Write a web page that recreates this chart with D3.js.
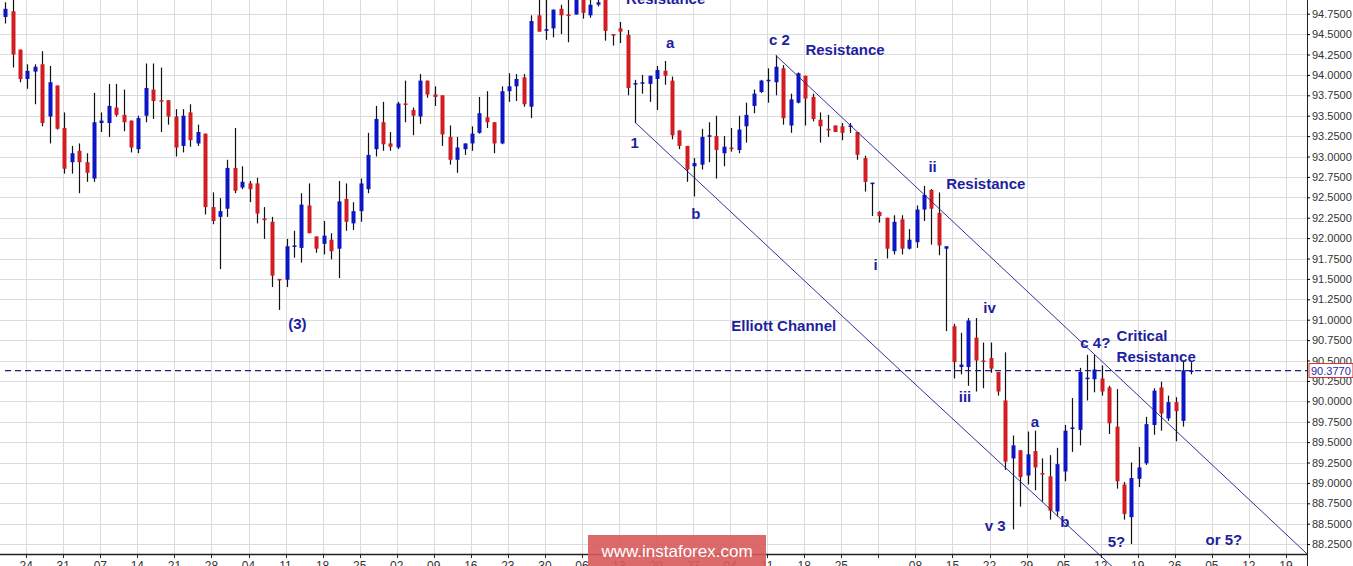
<!DOCTYPE html>
<html>
<head>
<meta charset="utf-8">
<script src="https://cdn.jsdelivr.net/npm/d3@7"></script>
<style>
  body { margin: 0; background: #fff; overflow: hidden; }
  svg { display: block; }
</style>
</head>
<body>
<div id="chart"></div>
<script>
// daily candles, [open, high, low, close]
var candles = [
  [94.71,94.89,94.63,94.81],[94.78,94.99,94.09,94.25],[94.31,94.31,93.91,93.95],[93.95,94.13,93.83,94.05],
  [94.04,94.13,93.64,94.10],[94.13,94.29,93.37,93.41],[93.49,94.11,93.16,93.91],[93.87,93.87,93.33,93.34],
  [93.35,93.54,92.79,92.85],[92.93,93.13,92.79,93.04],[93.07,93.16,92.55,92.93],[92.93,93.04,92.69,92.80],
  [92.73,93.78,92.69,93.42],[93.41,93.54,93.30,93.44],[93.41,93.89,93.24,93.62],[93.60,93.89,93.49,93.51],
  [93.51,93.82,93.31,93.42],[93.44,93.44,93.05,93.11],[93.09,93.50,93.04,93.47],[93.50,94.14,93.42,93.84],
  [93.82,94.14,93.46,93.68],[93.69,94.09,93.30,93.68],[93.69,93.69,93.39,93.49],[93.49,93.58,93.00,93.11],
  [93.13,93.58,93.05,93.50],[93.54,93.64,93.12,93.20],[93.16,93.39,93.13,93.30],[93.28,93.28,92.29,92.38],
  [92.38,92.56,92.17,92.21],[92.26,92.49,91.62,92.33],[92.36,92.96,92.26,92.86],[92.86,93.35,92.55,92.58],
  [92.62,92.88,92.60,92.69],[92.67,92.70,92.44,92.60],[92.67,92.74,92.18,92.30],[92.24,92.38,91.99,92.22],
  [92.20,92.26,91.40,91.54],[91.50,91.50,91.12,91.49],[91.49,91.99,91.40,91.90],[91.90,92.09,91.76,91.91],
  [91.88,92.55,91.70,92.41],[92.40,92.67,92.06,92.06],[92.02,92.02,91.82,91.87],[91.93,92.21,91.80,92.03],
  [91.98,92.06,91.74,91.84],[91.87,92.70,91.51,92.45],[92.48,92.67,92.09,92.20],[92.18,92.44,92.10,92.33],
  [92.33,92.73,92.20,92.67],[92.60,93.29,92.55,93.02],[93.09,93.62,93.00,93.46],[93.42,93.67,93.07,93.15],
  [93.16,93.30,93.07,93.12],[93.11,93.67,93.09,93.65],[93.65,93.93,93.42,93.64],[93.57,93.60,93.26,93.50],
  [93.49,94.01,93.40,93.93],[93.93,93.93,93.72,93.76],[93.76,93.86,93.62,93.73],[93.75,93.75,93.13,93.27],
  [93.24,93.38,92.90,92.96],[92.96,93.24,92.80,93.11],[93.09,93.16,93.02,93.16],[93.16,93.37,93.07,93.28],
  [93.29,93.73,93.28,93.53],[93.48,93.80,93.35,93.42],[93.42,93.42,93.04,93.16],[93.16,93.86,93.15,93.80],
  [93.80,94.02,93.67,93.86],[93.86,94.01,93.68,93.95],[93.97,94.01,93.61,93.64],[93.61,94.73,93.47,94.66],
  [94.73,94.95,94.53,94.53],[94.54,94.95,94.43,94.56],[94.57,94.80,94.46,94.80],[94.81,94.86,94.50,94.73],
  [94.74,94.95,94.40,94.73],[94.74,95.04,94.74,94.98],[94.99,95.04,94.69,94.76],[94.73,94.97,94.70,94.86],
  [94.86,94.97,94.84,94.89],[94.99,95.04,94.42,94.54],[94.50,94.50,94.36,94.49],[94.57,94.65,94.39,94.53],
  [94.49,94.55,93.75,93.84],[93.89,93.94,93.41,93.90],[93.90,94.00,93.77,93.91],[93.89,93.99,93.67,93.99],
  [93.95,94.11,93.57,94.06],[94.05,94.17,93.88,93.99],
  [93.93,93.98,93.21,93.26],[93.32,93.32,93.09,93.13],
  [93.13,93.13,92.69,92.84],[92.88,92.98,92.51,92.92],[92.90,93.34,92.84,93.24],[93.25,93.42,92.93,93.26],
  [93.25,93.50,92.73,93.08],[93.04,93.25,92.88,93.12],[93.11,93.35,93.06,93.10],[93.08,93.50,93.04,93.33],
  [93.37,93.66,93.17,93.51],[93.62,93.82,93.53,93.77],[93.79,93.94,93.78,93.93],[93.93,94.08,93.66,93.94],
  [93.91,94.24,93.75,94.10],[94.08,94.12,93.39,93.47],[93.38,93.77,93.29,93.70],[93.66,94.03,93.65,94.02],
  [93.99,93.99,93.38,93.71],[93.73,93.77,93.43,93.46],[93.45,93.54,93.17,93.37],[93.34,93.51,93.24,93.32],
  [93.38,93.38,93.30,93.30],[93.37,93.41,93.20,93.29],[93.37,93.41,93.29,93.38],[93.30,93.30,92.96,93.02],
  [92.98,93.01,92.57,92.69],[92.67,92.68,92.27,92.68],[92.32,92.33,92.19,92.27],[92.25,92.25,91.75,91.87],
  [91.84,92.28,91.80,92.20],[92.23,92.28,91.80,91.87],[91.87,92.11,91.86,91.98],[91.95,92.40,91.88,92.35],
  [92.35,92.64,92.21,92.53],[92.59,92.60,91.92,92.36],[92.31,92.56,91.79,91.91],[91.87,91.90,90.86,91.90],
  [90.92,90.95,90.28,90.48],[90.42,90.84,90.33,90.45],[90.42,91.02,90.19,90.99],[90.78,91.02,90.12,90.50],
  [90.50,90.72,90.16,90.49],[90.53,90.72,90.35,90.40],[90.36,90.36,90.07,90.12],[90.01,90.60,89.16,89.26],
  [89.30,89.58,88.43,89.46],[89.40,89.40,88.71,89.07],[89.09,89.63,88.98,89.35],[89.39,89.64,88.91,89.19],
  [89.12,89.30,88.77,89.11],[89.08,89.34,88.55,88.66],[88.65,89.43,88.59,89.23],[89.14,89.71,89.02,89.64],
  [89.66,90.04,89.38,89.68],[89.65,90.41,89.46,90.36],[90.28,90.57,90.01,90.29],[90.27,90.57,90.11,90.39],
  [90.28,90.44,90.07,90.12],[90.17,90.19,89.60,89.73],[89.69,90.15,88.93,89.02],[88.98,89.01,88.55,88.62],
  [88.58,89.25,88.25,89.06],[89.05,89.44,88.95,89.19],[89.24,89.81,89.22,89.72],[89.71,90.16,89.59,90.13],
  [90.17,90.24,89.64,89.85],[89.79,90.07,89.76,89.99],[89.99,90.05,89.51,89.88],[89.76,90.50,89.69,90.38],
  [90.377,90.48,90.33,90.377]
];

var weekLabels = ["24","31","07","14","21","28","04","11","18","25","02","09","16","23","30","06","13",
  "20","27","04","11","18","25","","08","15","22","29","05","12","19","26","05","12","19"];

var priceTicks = [88.25,88.5,88.75,89,89.25,89.5,89.75,90,90.25,90.5,90.75,91,91.25,91.5,91.75,
  92,92.25,92.5,92.75,93,93.25,93.5,93.75,94,94.25,94.5,94.75];

var lastPrice = 90.377;

// channel lines as [day index, price]
var upperChannel = [[104.0, 94.24], [175.7, 88.13]];
var lowerChannel = [[85.0, 93.42], [120.8, 90.38], [149.7, 87.95]];

// wave labels [day index, price, text]
var labels = [
  [83.8, 94.87, "Resistance"],
  [89.2, 94.33, "a"],
  [103.1, 94.37, "c 2"],
  [108.0, 94.24, "Resistance"],
  [84.4, 93.10, "1"],
  [92.6, 92.23, "b"],
  [98.0, 90.86, "Elliott Channel"],
  [117.2, 91.61, "i"],
  [124.6, 92.81, "ii"],
  [127.0, 92.60, "Resistance"],
  [132.0, 91.08, "iv"],
  [128.7, 89.99, "iii"],
  [138.4, 89.69, "a"],
  [132.2, 88.41, "v 3"],
  [142.4, 88.46, "b"],
  [148.8, 88.22, "5?"],
  [162.0, 88.24, "or 5?"],
  [145.1, 90.65, "c 4?"],
  [150.0, 90.74, "Critical"],
  [150.0, 90.48, "Resistance"],
  [38.2, 90.89, "(3)"]
];

var W = 1353, H = 566, plotRight = 1307, axisY = 554;

var x = d3.scaleLinear().domain([0, 160]).range([5.1, 5.1 + 7.41 * 160]);
var y = d3.scaleLinear().domain([88.25, 94.75]).range([544.1, 13.7]);

var svg = d3.select("#chart").append("svg").attr("width", W).attr("height", H)
  .style("font-family", "Liberation Sans, Arial, sans-serif");

var defs = svg.append("defs");
defs.append("clipPath").attr("id", "plot")
  .append("rect").attr("x", 0).attr("y", 0).attr("width", plotRight).attr("height", axisY);
defs.append("clipPath").attr("id", "lines")
  .append("rect").attr("x", 0).attr("y", 0).attr("width", plotRight).attr("height", H);

// grid
svg.append("g").selectAll("line").data(priceTicks).enter().append("line")
  .attr("x1", 0).attr("x2", plotRight)
  .attr("y1", d => Math.round(y(d)) + 0.5).attr("y2", d => Math.round(y(d)) + 0.5)
  .attr("stroke", "#dcdcdc");
svg.append("g").selectAll("line").data(weekLabels).enter().append("line")
  .attr("x1", (d, i) => Math.round(x(2.85 + 5 * i)) + 0.5)
  .attr("x2", (d, i) => Math.round(x(2.85 + 5 * i)) + 0.5)
  .attr("y1", 0).attr("y2", axisY)
  .attr("stroke", "#dcdcdc");

// candles
var cg = svg.append("g").attr("clip-path", "url(#plot)");
var c = cg.selectAll("g").data(candles).enter().append("g");
c.append("line")
  .attr("x1", (d, i) => Math.round(x(i)) + 0.5).attr("x2", (d, i) => Math.round(x(i)) + 0.5)
  .attr("y1", d => y(d[1])).attr("y2", d => y(d[2]))
  .attr("stroke", "#111").attr("stroke-width", 1.2);
c.append("rect")
  .attr("x", (d, i) => Math.round(x(i)) - 1.5)
  .attr("width", 4)
  .attr("y", d => y(Math.max(d[0], d[3])))
  .attr("height", d => Math.max(1.5, Math.abs(y(d[0]) - y(d[3]))))
  .attr("fill", d => d[3] >= d[0] ? "#0c16c4" : "#d21e22");

// channel lines
var line = d3.line().x(d => x(d[0])).y(d => y(d[1]));
var lg = svg.append("g").attr("clip-path", "url(#lines)");
[upperChannel, lowerChannel].forEach(function (pts) {
  lg.append("path").attr("d", line(pts)).attr("fill", "none")
    .attr("stroke", "#1c1c8a").attr("stroke-width", 0.9);
});

// last price line
svg.append("line")
  .attr("x1", 5).attr("x2", plotRight)
  .attr("y1", y(lastPrice)).attr("y2", y(lastPrice))
  .attr("stroke", "#1c1c8a").attr("stroke-width", 1.2)
  .attr("stroke-dasharray", "6,4");

// axes
svg.append("g").attr("transform", "translate(" + plotRight + ",0)")
  .call(d3.axisRight(y).tickValues(priceTicks).tickSize(3).tickPadding(2)
    .tickFormat(d3.format(".4f")))
  .call(g => g.select(".domain").attr("stroke", "#222").attr("d", "M0.5,0V" + H))
  .call(g => g.selectAll("text").attr("fill", "#333").style("font-size", "11px")
    .style("font-family", "Liberation Sans, Arial, sans-serif"));

var xg = svg.append("g").attr("transform", "translate(0," + axisY + ")");
xg.append("line").attr("x1", 0).attr("x2", plotRight).attr("y1", 0.5).attr("y2", 0.5)
  .attr("stroke", "#222").attr("stroke-width", 1.5);
xg.selectAll("text").data(weekLabels).enter().append("text")
  .attr("x", (d, i) => x(2.85 + 5 * i)).attr("y", 16)
  .attr("text-anchor", "middle").attr("fill", "#333").style("font-size", "12px")
  .text(d => d);
xg.selectAll(".tk").data(weekLabels).enter().append("line")
  .attr("x1", (d, i) => Math.round(x(2.85 + 5 * i)) + 0.5)
  .attr("x2", (d, i) => Math.round(x(2.85 + 5 * i)) + 0.5)
  .attr("y1", 0).attr("y2", 4).attr("stroke", "#222");

// last price box
svg.append("rect").attr("x", plotRight + 2).attr("y", y(lastPrice) - 7)
  .attr("width", 44).attr("height", 14).attr("fill", "#fff").attr("stroke", "#d03030");
svg.append("text").attr("x", plotRight + 4).attr("y", y(lastPrice) + 4)
  .attr("fill", "#2a2aa8").style("font-size", "11px").text(lastPrice.toFixed(4));

// wave labels
svg.append("g").selectAll("text").data(labels).enter().append("text")
  .attr("x", d => x(d[0])).attr("y", d => y(d[1]))
  .attr("fill", "#1e1ea0").style("font-size", "15px").style("font-weight", "bold")
  .text(d => d[2]);

// watermark
svg.append("rect").attr("x", 588).attr("y", 535).attr("width", 178).attr("height", 31)
  .attr("fill", "#d85a5a").attr("opacity", 0.9);
svg.append("text").attr("x", 677).attr("y", 557).attr("text-anchor", "middle")
  .attr("fill", "#fff").style("font-size", "17px").text("www.instaforex.com");
</script>
</body>
</html>
